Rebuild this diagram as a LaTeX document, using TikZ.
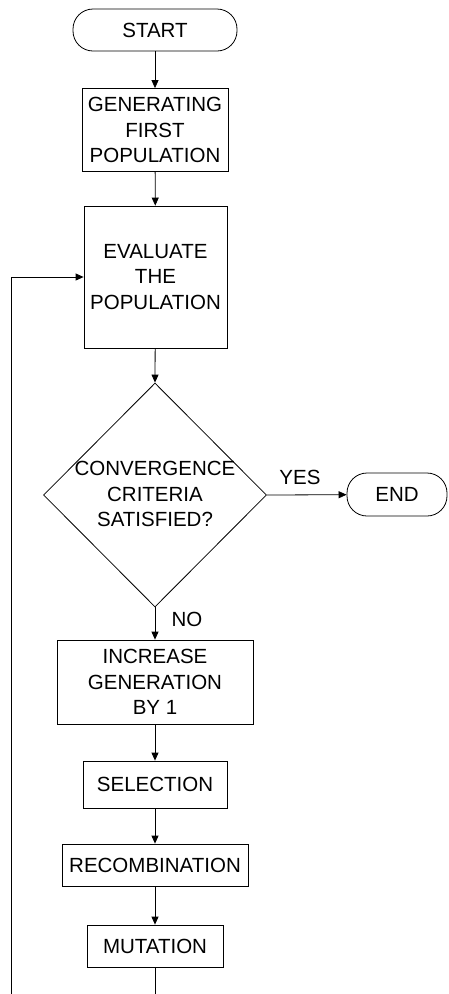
\documentclass[tikz,border=0pt]{standalone}
\usepackage{fontspec}
\setmainfont{Liberation Sans}
\usetikzlibrary{arrows.meta,shapes.geometric}
\begin{document}
\begin{tikzpicture}[x=1pt,y=-1pt,
  every node/.style={font=\fontsize{20.5}{25.5}\selectfont, align=center, inner sep=0pt},
  box/.style={draw, line width=0.8pt, rectangle},
  term/.style={draw, line width=0.8pt, rectangle, rounded corners=20pt},
  arr/.style={line width=0.8pt, -{Triangle[length=8pt,width=7pt]}},
  ln/.style={line width=0.8pt}]
\useasboundingbox (0,0) rectangle (448,994);
\node[term, minimum width=164pt, minimum height=42pt] (start) at (155,30) {START};
\node[box, minimum width=146pt, minimum height=83pt] (gen) at (155,130) {GENERATING\\FIRST\\POPULATION};
\node[box, minimum width=143pt, minimum height=142pt] (eval) at (155.5,277) {EVALUATE\\THE\\POPULATION};
\node[draw, diamond, line width=0.8pt, minimum width=223pt, minimum height=224pt] (dec) at (155,495) {};
\node (dect) at (155,494) {CONVERGENCE\\CRITERIA\\SATISFIED?};
\node[term, minimum width=100pt, minimum height=43pt] (end) at (397,494.5) {END};
\node[box, minimum width=196pt, minimum height=84pt] (inc) at (155,682) {INCREASE\\GENERATION\\BY 1};
\node[box, minimum width=144pt, minimum height=47pt] (sel) at (155,784.5) {SELECTION};
\node[box, minimum width=186pt, minimum height=42pt] (rec) at (155,865) {RECOMBINATION};
\node[box, minimum width=136pt, minimum height=42pt] (mut) at (155,946) {MUTATION};
\node (yes) at (300,477) {YES};
\node (no) at (187,619) {NO};
\coordinate (mutbot) at (155,994);
\coordinate (loopbot) at (11,994);
\draw[arr] (start) -- (gen);
\draw[arr] (gen) -- (eval);
\draw[arr] (eval) -- (dec.north);
\draw[arr] (dec.east) -- (end);
\draw[arr] (dec.south) -- (inc);
\draw[arr] (inc) -- (sel);
\draw[arr] (sel) -- (rec);
\draw[arr] (rec) -- (mut);
\draw[ln] (mut) -- (mutbot);
\draw[arr] (loopbot) |- (eval.west);
\end{tikzpicture}
\end{document}
